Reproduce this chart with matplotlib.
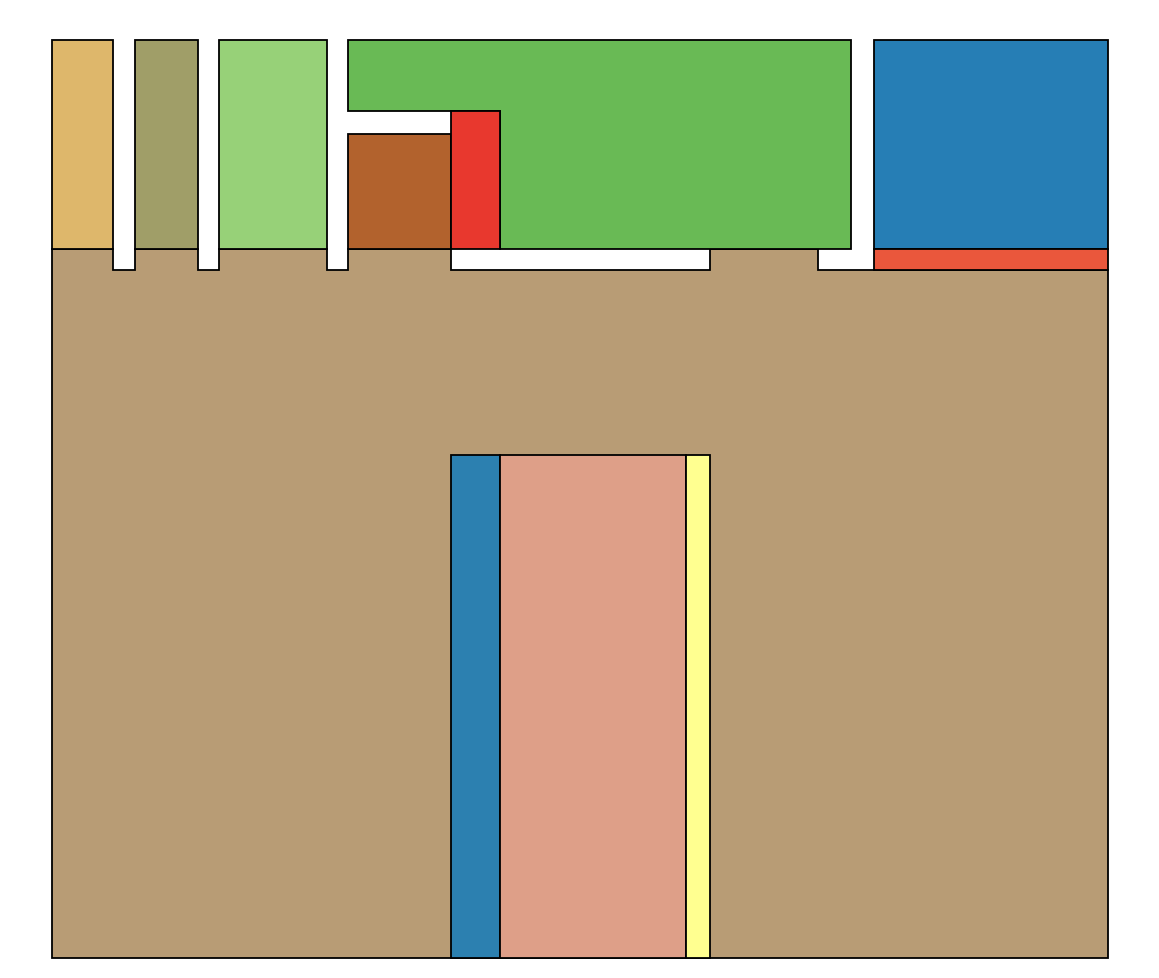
import matplotlib
matplotlib.use("Agg")
import matplotlib.pyplot as plt
from matplotlib.patches import Rectangle, Polygon

# plain rectangular blocks: (x0, x1, y0, y1) in chart units (0-100 each way)
names = ["yellow", "olive", "light green", "brown", "red", "blue", "red strip",
         "low blue", "pink", "pale yellow"]
x0 = [0.00, 7.86, 15.81, 28.03, 37.78, 77.84, 77.84, 37.78, 42.42, 60.04]
x1 = [5.78, 13.83, 26.04, 37.78, 42.42, 100.0, 100.0, 42.42, 60.04, 62.31]
y0 = [77.21, 77.21, 77.21, 77.21, 77.21, 77.21, 74.92, 0.00, 0.00, 0.00]
y1 = [100.0, 100.0, 100.0, 89.75, 92.26, 100.0, 77.21, 54.74, 54.74, 54.74]
colors = ["#DEB76B", "#A09E68", "#97D178", "#B2622D", "#E8382E", "#267EB5",
          "#EA573C", "#2C80B0", "#DE9F88", "#FFFF90"]

# irregular blocks: the green L-shape and the tan base with notches
green_x = [28.03, 75.66, 75.66, 42.42, 42.42, 28.03]
green_y = [100.0, 100.0, 77.21, 77.21, 92.26, 92.26]
green_color = "#69BA55"

tan_x = [0.00, 0.00, 5.78, 5.78, 7.86, 7.86, 13.83, 13.83, 15.81, 15.81,
         26.04, 26.04, 28.03, 28.03, 37.78, 37.78, 62.31, 62.31, 72.54,
         72.54, 100.0, 100.0]
tan_y = [0.00, 77.21, 77.21, 74.92, 74.92, 77.21, 77.21, 74.92, 74.92, 77.21,
         77.21, 74.92, 74.92, 77.21, 77.21, 74.92, 74.92, 77.21, 77.21,
         74.92, 74.92, 0.00]
tan_color = "#B89C75"

EDGE = dict(edgecolor="black", linewidth=1.3, clip_on=False)

fig = plt.figure(figsize=(11.59, 9.79), dpi=100)
ax = fig.add_axes([52 / 1159, 20 / 979, 1056 / 1159, 918 / 979])

ax.add_patch(Polygon(list(zip(tan_x, tan_y)), closed=True,
                     facecolor=tan_color, **EDGE))
ax.add_patch(Polygon(list(zip(green_x, green_y)), closed=True,
                     facecolor=green_color, **EDGE))
for a, b, c, d, col in zip(x0, x1, y0, y1, colors):
    ax.add_patch(Rectangle((a, c), b - a, d - c, facecolor=col, **EDGE))

ax.set_xlim(0, 100)
ax.set_ylim(0, 100)
ax.axis("off")

fig.savefig("out.png", dpi=100)
